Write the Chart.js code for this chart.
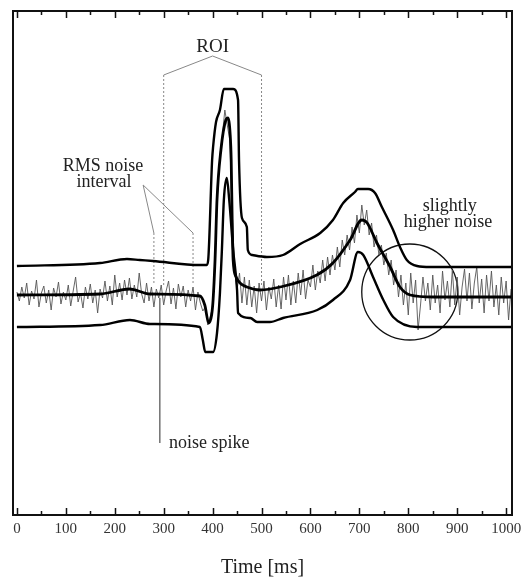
<!DOCTYPE html>
<html>
<head>
<meta charset="utf-8">
<title>Averaged signal with noise envelope</title>
<script src="https://cdn.jsdelivr.net/npm/chart.js@4.4.1/dist/chart.umd.min.js"></script>
<style>
    html, body { margin: 0; padding: 0; background: #fff; }
    #wrap { width: 527px; height: 578px; }
</style>
</head>
<body>
<div id="wrap"><canvas id="signalChart" width="527" height="578"></canvas></div>
<script>
// ==========================
// Averaged signal + noise envelope
// ==========================

// ---------------- Axis ----------------

const xTickLabels = [0, 100, 200, 300, 400, 500, 600, 700, 800, 900, 1000];
const xMinorTicks = [50, 150, 250, 350, 450, 550, 650, 750, 850, 950];

// ---------------- Averaged trace (thick) ----------------

const meanTimes = [0, 170, 230, 272, 374, 384, 392, 398, 401, 405, 409, 417, 427, 431, 436, 438, 440, 442, 448, 456, 470, 497, 538, 613, 646, 681, 705, 716, 736, 763, 783, 804, 851, 1010];
const meanValues = [0, 1, 6, 1, -1, -10, -28, -20, -5, 35, 95, 145, 175, 177, 160, 135, 75, 35, 18, 12, 8, 5, 8, 20, 32, 55, 75, 72, 52, 28, 8, 0, -2, -2];

// ---------------- Upper envelope ----------------

const upperTimes = [0, 170, 225, 251, 278, 374, 388, 391, 399, 401, 407, 415, 423, 442, 452, 454, 460, 470, 472, 481, 511, 544, 579, 620, 646, 667, 691, 697, 718, 732, 746, 769, 783, 797, 818, 845, 1010];
const upperValues = [29, 32, 36, 35, 34, 30, 30, 35, 135, 148, 173, 185, 206, 206, 195, 135, 77, 68, 45, 40, 38, 40, 51, 62, 75, 92, 103, 106, 106, 102, 88, 65, 48, 35, 29, 28, 28];

// ---------------- Lower envelope ----------------

const lowerTimes = [0, 170, 231, 272, 374, 380, 385, 401, 409, 415, 419, 423, 429, 434, 442, 450, 452, 477, 491, 517, 544, 614, 646, 681, 697, 708, 728, 749, 769, 818, 1010];
const lowerValues = [-32, -30, -25, -29, -32, -45, -57, -57, -38, 2, 45, 95, 117, 95, 45, 5, -18, -23, -27, -27, -23, -15, -5, 15, 43, 40, 18, -5, -22, -32, -32];

// ---------------- Single-trial trace (thin, every 5 ms) ----------------

const noisyStep = 5;
const noisyValues = [
    3, -6, 8, -3, 12, -10, 4, -4, 15, -12, 2, 9, -8, 5, -15, 7, -2, 13, -9, 3,
    -5, 10, -11, 4, 18, -7, 2, -13, 8, -4, 11, -8, 5, -18, 6, -3, 14, -6, 9, -10,
    20, -2, 12, -5, 15, 0, 17, -4, 10, -2, 22, 1, -8, 12, -6, 8, -12, 6, -3, 10,
    -10, 4, 14, -9, 7, -14, 11, -2, 9, -12, 5, -6, 8, -15, 3, -8, -16, -12, -30, -22,
    -12, 40, 100, 140, 160, 185, 170, 155, 85, 25, 5, 22, -8, 18, -10, 15, -12, 9, -18, 12,
    -6, 14, -15, 8, -4, 16, -12, 10, -14, 18, -5, 20, -10, 14, -8, 22, 0, 25, -4, 15,
    8, 30, 5, 24, 12, 35, 14, 38, 20, 40, 25, 48, 28, 55, 40, 60, 45, 68, 52, 80,
    62, 90, 70, 85, 60, 72, 48, 60, 40, 50, 30, 42, 20, 35, 10, 25, -2, 20, -10, 12,
    -20, 22, -8, 15, -35, -10, 18, -6, 12, -15, 20, -8, 10, -18, 24, -5, 14, -12, 25, -10,
    18, -20, 8, 26, -6, 22, -14, 12, 28, -8, 16, -18, 20, -6, 24, -12, 10, -20, 18, -8,
    14, -25, 6
];
const noisyTimes = noisyValues.map((v, i) => i * noisyStep);

// ---------------- Annotations (time, value) ----------------

const noiseSpikeTimes = [292, 292];
const noiseSpikeValues = [-3, -148];

const roiBracketTimes = [300, 400, 500];
const roiBracketValues = [220, 239, 220];
const roiBounds = [300, 500];
const roiLineTop = 220;
const roiLineBottom = 10;

const rmsBounds = [280, 360];
const rmsLineTop = 62;
const rmsLineBottom = 10;
const rmsLeaderStart = { x: 258, y: 110 };

const circleCentre = { x: 803, y: 3 };

const labels = [
    { text: "ROI", x: 400, y: 248, size: 19, align: "center" },
    { text: "RMS noise", x: 176, y: 129, size: 18, align: "center" },
    { text: "interval", x: 178, y: 113, size: 18, align: "center" },
    { text: "slightly", x: 885, y: 89, size: 18, align: "center" },
    { text: "higher noise", x: 881, y: 73, size: 18, align: "center" },
    { text: "noise spike", x: 311, y: -148, size: 18, align: "left" }
];

// ---------------- Helpers ----------------

function toPoints(times, values) {
    return times.map((t, i) => ({ x: t, y: values[i] }));
}

function vline(x, top, bottom) {
    return [{ x: x, y: top }, { x: x, y: bottom }];
}

const SERIF = "'Liberation Serif', 'DejaVu Serif', serif";

Chart.defaults.font.family = SERIF;

// ---------------- Frame, ticks and text ----------------

const framePlugin = {

    id: "frame",

    afterDraw(chart) {

        const { ctx, chartArea, scales } = chart;
        const x = scales.x;
        const y = scales.y;

        ctx.save();

        ctx.strokeStyle = "#111";
        ctx.lineWidth = 2;
        ctx.strokeRect(chartArea.left, chartArea.top, chartArea.right - chartArea.left, chartArea.bottom - chartArea.top);

        ctx.lineWidth = 1.5;
        ctx.beginPath();

        xTickLabels.forEach(v => {
            const px = Math.round(x.getPixelForValue(v)) + 0.5;
            ctx.moveTo(px, chartArea.bottom);
            ctx.lineTo(px, chartArea.bottom - 7);
            ctx.moveTo(px, chartArea.top);
            ctx.lineTo(px, chartArea.top + 7);
        });

        xMinorTicks.forEach(v => {
            const px = Math.round(x.getPixelForValue(v)) + 0.5;
            ctx.moveTo(px, chartArea.bottom);
            ctx.lineTo(px, chartArea.bottom - 4);
            ctx.moveTo(px, chartArea.top);
            ctx.lineTo(px, chartArea.top + 4);
        });

        ctx.stroke();

        ctx.fillStyle = "#222";
        ctx.textBaseline = "middle";

        labels.forEach(l => {
            ctx.font = l.size + "px " + SERIF;
            ctx.textAlign = l.align;
            ctx.fillText(l.text, x.getPixelForValue(l.x), y.getPixelForValue(l.y));
        });

        ctx.restore();

    }

};

// ---------------- Chart ----------------

const lineStyle = {
    type: "line",
    pointRadius: 0,
    fill: false,
    cubicInterpolationMode: "monotone"
};

const ctx = document.getElementById("signalChart").getContext("2d");

new Chart(ctx, {

    type: "line",

    data: {

        datasets: [

            Object.assign({}, lineStyle, {
                label: "Average",
                data: toPoints(meanTimes, meanValues),
                borderColor: "#000",
                borderWidth: 2.8
            }),

            Object.assign({}, lineStyle, {
                label: "Upper envelope",
                data: toPoints(upperTimes, upperValues),
                borderColor: "#000",
                borderWidth: 2.4
            }),

            Object.assign({}, lineStyle, {
                label: "Lower envelope",
                data: toPoints(lowerTimes, lowerValues),
                borderColor: "#000",
                borderWidth: 2.4
            }),

            {
                type: "line",
                label: "Single trial",
                data: toPoints(noisyTimes, noisyValues),
                borderColor: "#555",
                borderWidth: 0.9,
                pointRadius: 0,
                tension: 0
            },

            {
                type: "line",
                label: "Noise spike",
                data: toPoints(noiseSpikeTimes, noiseSpikeValues),
                borderColor: "#777",
                borderWidth: 1,
                pointRadius: 0
            },

            {
                type: "scatter",
                label: "Higher noise region",
                data: [circleCentre],
                pointRadius: 48,
                pointHoverRadius: 48,
                borderColor: "#111",
                borderWidth: 1.3,
                backgroundColor: "rgba(0,0,0,0)"
            },

            {
                type: "line",
                label: "ROI bracket",
                data: toPoints(roiBracketTimes, roiBracketValues),
                borderColor: "#888",
                borderWidth: 1,
                pointRadius: 0,
                tension: 0
            },

            ...roiBounds.concat(rmsBounds).map((b, i) => ({
                type: "line",
                label: "Bound " + b,
                data: i < 2 ? vline(b, roiLineTop, roiLineBottom) : vline(b, rmsLineTop, rmsLineBottom),
                borderColor: "#888",
                borderWidth: 1,
                borderDash: [2, 2],
                pointRadius: 0
            })),

            ...rmsBounds.map(b => ({
                type: "line",
                label: "Leader " + b,
                data: [rmsLeaderStart, { x: b, y: rmsLineTop }],
                borderColor: "#888",
                borderWidth: 1,
                pointRadius: 0
            }))

        ]

    },

    options: {

        responsive: false,

        animation: false,

        events: [],

        layout: {
            // the big circle must not push the plot inwards
            autoPadding: false,
            padding: { left: 13, right: 15, top: 11, bottom: 0 }
        },

        plugins: {
            legend: { display: false },
            tooltip: { enabled: false }
        },

        scales: {

            x: {
                type: "linear",
                min: -8,
                max: 1012,
                afterBuildTicks: scale => {
                    scale.ticks = xTickLabels.map(v => ({ value: v }));
                },
                grid: { display: false, drawTicks: false },
                border: { display: false },
                ticks: {
                    color: "#333",
                    padding: 5,
                    maxRotation: 0,
                    autoSkip: false,
                    font: { size: 15 },
                    callback: v => String(v)
                },
                title: {
                    display: true,
                    text: "Time [ms]",
                    color: "#222",
                    font: { size: 20, lineHeight: 1 },
                    padding: { top: 15, bottom: 0 }
                }
            },

            y: {
                display: false,
                min: -220,
                max: 284
            }

        }

    },

    plugins: [framePlugin]

});
</script>
</body>
</html>
